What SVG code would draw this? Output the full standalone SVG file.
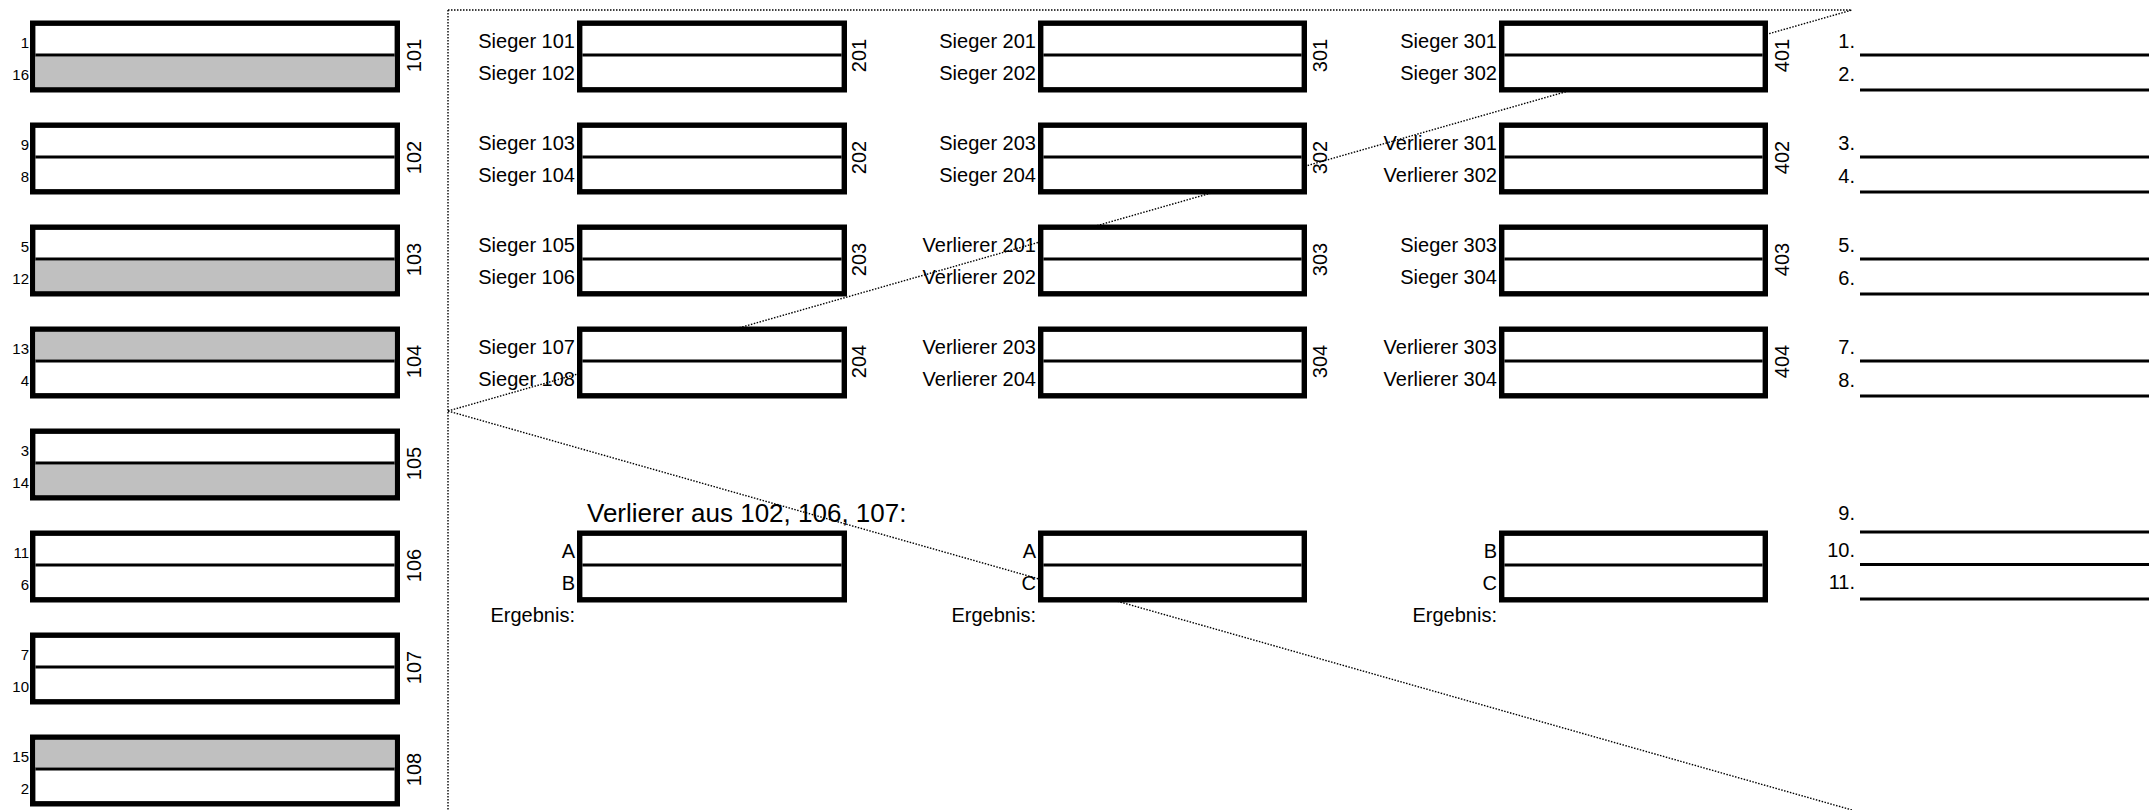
<svg xmlns="http://www.w3.org/2000/svg" width="2156" height="810" viewBox="0 0 2156 810">
<style>
.bx{fill:#fff;stroke:#000;stroke-width:5.4}
.dv{stroke:#000;stroke-width:3}
.gr{fill:#c0c0c0}
text{font-family:"Liberation Sans",Arial,sans-serif;font-size:20px;fill:#000}
.sd{font-size:15px;text-anchor:end}
.lb{text-anchor:end}
.rn{font-size:20px;text-anchor:middle}
.hd{font-size:26px}
.dot{fill:none;stroke:#000;stroke-width:1.4;stroke-dasharray:1.5 1.5}
.rl{stroke:#000;stroke-width:3}
</style>
<rect width="2156" height="810" fill="#fff"/>
<g id="connectors">
<line class="dot" x1="448" y1="10" x2="448" y2="810"/>
<line class="dot" x1="448" y1="10" x2="1852" y2="10"/>
<line class="dot" x1="448" y1="411" x2="1852" y2="10"/>
<line class="dot" x1="448" y1="411" x2="1852" y2="810"/>
</g>
<!-- Round 1 -->
<g id="m101" transform="translate(0,20.5)"><rect class="bx" x="32.7" y="2.7" width="364.6" height="66.6"/><rect class="gr" x="35.4" y="36" width="359.2" height="30.6"/><line class="dv" x1="35.4" y1="34.5" x2="394.6" y2="34.5"/><text class="sd" x="29" y="27.5">1</text><text class="sd" x="29" y="59.5">16</text><text class="rn" transform="translate(421,35) rotate(-90)">101</text></g>
<g id="m102" transform="translate(0,122.5)"><rect class="bx" x="32.7" y="2.7" width="364.6" height="66.6"/><line class="dv" x1="35.4" y1="34.5" x2="394.6" y2="34.5"/><text class="sd" x="29" y="27.5">9</text><text class="sd" x="29" y="59.5">8</text><text class="rn" transform="translate(421,35) rotate(-90)">102</text></g>
<g id="m103" transform="translate(0,224.5)"><rect class="bx" x="32.7" y="2.7" width="364.6" height="66.6"/><rect class="gr" x="35.4" y="36" width="359.2" height="30.6"/><line class="dv" x1="35.4" y1="34.5" x2="394.6" y2="34.5"/><text class="sd" x="29" y="27.5">5</text><text class="sd" x="29" y="59.5">12</text><text class="rn" transform="translate(421,35) rotate(-90)">103</text></g>
<g id="m104" transform="translate(0,326.5)"><rect class="bx" x="32.7" y="2.7" width="364.6" height="66.6"/><rect class="gr" x="35.4" y="5.4" width="359.2" height="27.6"/><line class="dv" x1="35.4" y1="34.5" x2="394.6" y2="34.5"/><text class="sd" x="29" y="27.5">13</text><text class="sd" x="29" y="59.5">4</text><text class="rn" transform="translate(421,35) rotate(-90)">104</text></g>
<g id="m105" transform="translate(0,428.5)"><rect class="bx" x="32.7" y="2.7" width="364.6" height="66.6"/><rect class="gr" x="35.4" y="36" width="359.2" height="30.6"/><line class="dv" x1="35.4" y1="34.5" x2="394.6" y2="34.5"/><text class="sd" x="29" y="27.5">3</text><text class="sd" x="29" y="59.5">14</text><text class="rn" transform="translate(421,35) rotate(-90)">105</text></g>
<g id="m106" transform="translate(0,530.5)"><rect class="bx" x="32.7" y="2.7" width="364.6" height="66.6"/><line class="dv" x1="35.4" y1="34.5" x2="394.6" y2="34.5"/><text class="sd" x="29" y="27.5">11</text><text class="sd" x="29" y="59.5">6</text><text class="rn" transform="translate(421,35) rotate(-90)">106</text></g>
<g id="m107" transform="translate(0,632.5)"><rect class="bx" x="32.7" y="2.7" width="364.6" height="66.6"/><line class="dv" x1="35.4" y1="34.5" x2="394.6" y2="34.5"/><text class="sd" x="29" y="27.5">7</text><text class="sd" x="29" y="59.5">10</text><text class="rn" transform="translate(421,35) rotate(-90)">107</text></g>
<g id="m108" transform="translate(0,734.5)"><rect class="bx" x="32.7" y="2.7" width="364.6" height="66.6"/><rect class="gr" x="35.4" y="5.4" width="359.2" height="27.6"/><line class="dv" x1="35.4" y1="34.5" x2="394.6" y2="34.5"/><text class="sd" x="29" y="27.5">15</text><text class="sd" x="29" y="59.5">2</text><text class="rn" transform="translate(421,35) rotate(-90)">108</text></g>
<!-- Round 2 -->
<g id="m201" transform="translate(0,20.5)"><rect class="bx" x="579.7" y="2.7" width="264.6" height="66.6"/><line class="dv" x1="582.4" y1="34.5" x2="841.6" y2="34.5"/><text class="lb" x="575" y="27.5">Sieger 101</text><text class="lb" x="575" y="59.5">Sieger 102</text><text class="rn" transform="translate(866,35) rotate(-90)">201</text></g>
<g id="m202" transform="translate(0,122.5)"><rect class="bx" x="579.7" y="2.7" width="264.6" height="66.6"/><line class="dv" x1="582.4" y1="34.5" x2="841.6" y2="34.5"/><text class="lb" x="575" y="27.5">Sieger 103</text><text class="lb" x="575" y="59.5">Sieger 104</text><text class="rn" transform="translate(866,35) rotate(-90)">202</text></g>
<g id="m203" transform="translate(0,224.5)"><rect class="bx" x="579.7" y="2.7" width="264.6" height="66.6"/><line class="dv" x1="582.4" y1="34.5" x2="841.6" y2="34.5"/><text class="lb" x="575" y="27.5">Sieger 105</text><text class="lb" x="575" y="59.5">Sieger 106</text><text class="rn" transform="translate(866,35) rotate(-90)">203</text></g>
<g id="m204" transform="translate(0,326.5)"><rect class="bx" x="579.7" y="2.7" width="264.6" height="66.6"/><line class="dv" x1="582.4" y1="34.5" x2="841.6" y2="34.5"/><text class="lb" x="575" y="27.5">Sieger 107</text><text class="lb" x="575" y="59.5">Sieger 108</text><text class="rn" transform="translate(866,35) rotate(-90)">204</text></g>
<!-- Round 3 -->
<g id="m301" transform="translate(0,20.5)"><rect class="bx" x="1040.7" y="2.7" width="263.6" height="66.6"/><line class="dv" x1="1043.4" y1="34.5" x2="1301.6" y2="34.5"/><text class="lb" x="1036" y="27.5">Sieger 201</text><text class="lb" x="1036" y="59.5">Sieger 202</text><text class="rn" transform="translate(1327,35) rotate(-90)">301</text></g>
<g id="m302" transform="translate(0,122.5)"><rect class="bx" x="1040.7" y="2.7" width="263.6" height="66.6"/><line class="dv" x1="1043.4" y1="34.5" x2="1301.6" y2="34.5"/><text class="lb" x="1036" y="27.5">Sieger 203</text><text class="lb" x="1036" y="59.5">Sieger 204</text><text class="rn" transform="translate(1327,35) rotate(-90)">302</text></g>
<g id="m303" transform="translate(0,224.5)"><rect class="bx" x="1040.7" y="2.7" width="263.6" height="66.6"/><line class="dv" x1="1043.4" y1="34.5" x2="1301.6" y2="34.5"/><text class="lb" x="1036" y="27.5">Verlierer 201</text><text class="lb" x="1036" y="59.5">Verlierer 202</text><text class="rn" transform="translate(1327,35) rotate(-90)">303</text></g>
<g id="m304" transform="translate(0,326.5)"><rect class="bx" x="1040.7" y="2.7" width="263.6" height="66.6"/><line class="dv" x1="1043.4" y1="34.5" x2="1301.6" y2="34.5"/><text class="lb" x="1036" y="27.5">Verlierer 203</text><text class="lb" x="1036" y="59.5">Verlierer 204</text><text class="rn" transform="translate(1327,35) rotate(-90)">304</text></g>
<!-- Round 4 -->
<g id="m401" transform="translate(0,20.5)"><rect class="bx" x="1501.7" y="2.7" width="263.6" height="66.6"/><line class="dv" x1="1504.4" y1="34.5" x2="1762.6" y2="34.5"/><text class="lb" x="1497" y="27.5">Sieger 301</text><text class="lb" x="1497" y="59.5">Sieger 302</text><text class="rn" transform="translate(1789,35) rotate(-90)">401</text></g>
<g id="m402" transform="translate(0,122.5)"><rect class="bx" x="1501.7" y="2.7" width="263.6" height="66.6"/><line class="dv" x1="1504.4" y1="34.5" x2="1762.6" y2="34.5"/><text class="lb" x="1497" y="27.5">Verlierer 301</text><text class="lb" x="1497" y="59.5">Verlierer 302</text><text class="rn" transform="translate(1789,35) rotate(-90)">402</text></g>
<g id="m403" transform="translate(0,224.5)"><rect class="bx" x="1501.7" y="2.7" width="263.6" height="66.6"/><line class="dv" x1="1504.4" y1="34.5" x2="1762.6" y2="34.5"/><text class="lb" x="1497" y="27.5">Sieger 303</text><text class="lb" x="1497" y="59.5">Sieger 304</text><text class="rn" transform="translate(1789,35) rotate(-90)">403</text></g>
<g id="m404" transform="translate(0,326.5)"><rect class="bx" x="1501.7" y="2.7" width="263.6" height="66.6"/><line class="dv" x1="1504.4" y1="34.5" x2="1762.6" y2="34.5"/><text class="lb" x="1497" y="27.5">Verlierer 303</text><text class="lb" x="1497" y="59.5">Verlierer 304</text><text class="rn" transform="translate(1789,35) rotate(-90)">404</text></g>
<!-- Placement group -->
<g id="heading"><text class="hd" x="587" y="522">Verlierer aus 102, 106, 107:</text></g>
<g id="p1" transform="translate(0,530.5)"><rect class="bx" x="579.7" y="2.7" width="264.6" height="66.6"/><line class="dv" x1="582.4" y1="34.5" x2="841.6" y2="34.5"/><text class="lb" x="575" y="27.5">A</text><text class="lb" x="575" y="59.5">B</text><text class="lb" x="575" y="91.5">Ergebnis:</text></g>
<g id="p2" transform="translate(0,530.5)"><rect class="bx" x="1040.7" y="2.7" width="263.6" height="66.6"/><line class="dv" x1="1043.4" y1="34.5" x2="1301.6" y2="34.5"/><text class="lb" x="1036" y="27.5">A</text><text class="lb" x="1036" y="59.5">C</text><text class="lb" x="1036" y="91.5">Ergebnis:</text></g>
<g id="p3" transform="translate(0,530.5)"><rect class="bx" x="1501.7" y="2.7" width="263.6" height="66.6"/><line class="dv" x1="1504.4" y1="34.5" x2="1762.6" y2="34.5"/><text class="lb" x="1497" y="27.5">B</text><text class="lb" x="1497" y="59.5">C</text><text class="lb" x="1497" y="91.5">Ergebnis:</text></g>
<!-- Ranking -->
<g id="ranking">
<text class="lb" x="1855" y="47.5">1.</text><line class="rl" x1="1860" y1="55" x2="2149" y2="55"/>
<text class="lb" x="1855" y="81">2.</text><line class="rl" x1="1860" y1="90" x2="2149" y2="90"/>
<text class="lb" x="1855" y="149.5">3.</text><line class="rl" x1="1860" y1="157" x2="2149" y2="157"/>
<text class="lb" x="1855" y="183">4.</text><line class="rl" x1="1860" y1="192" x2="2149" y2="192"/>
<text class="lb" x="1855" y="251.5">5.</text><line class="rl" x1="1860" y1="259" x2="2149" y2="259"/>
<text class="lb" x="1855" y="285">6.</text><line class="rl" x1="1860" y1="294" x2="2149" y2="294"/>
<text class="lb" x="1855" y="353.5">7.</text><line class="rl" x1="1860" y1="361" x2="2149" y2="361"/>
<text class="lb" x="1855" y="387">8.</text><line class="rl" x1="1860" y1="396" x2="2149" y2="396"/>
<text class="lb" x="1855" y="520">9.</text><line class="rl" x1="1860" y1="532" x2="2149" y2="532"/>
<text class="lb" x="1855" y="557">10.</text><line class="rl" x1="1860" y1="564.5" x2="2149" y2="564.5"/>
<text class="lb" x="1855" y="589">11.</text><line class="rl" x1="1860" y1="599" x2="2149" y2="599"/>
</g>
</svg>
